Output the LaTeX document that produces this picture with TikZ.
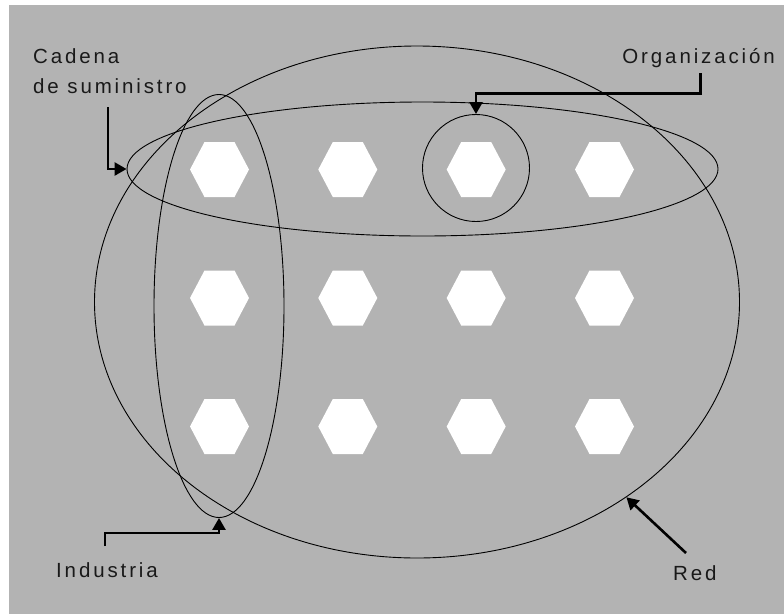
\documentclass[tikz,border=0pt]{standalone}
\usepackage{fontspec}
\setmainfont{Liberation Sans}[LetterSpace=14]
\usetikzlibrary{shapes.geometric,arrows.meta}
\definecolor{bggray}{HTML}{B3B3B3}
\begin{document}
\begin{tikzpicture}[x=1pt,y=-1pt,
  ring/.style={draw=black, line width=0.9pt, inner sep=0pt, fill=none},
  lbl/.style={anchor=base west, inner sep=0pt, font=\fontsize{20.5}{24}\selectfont, text=black!90},
  pointer/.style={draw=black, line width=2.6pt, -{Triangle[length=12pt,width=13pt]}},
  hexfill/.style={fill=white, draw=none}]
\useasboundingbox (0,0) rectangle (784,614);
\fill[white] (0,0) rectangle (784,614);
\fill[bggray] (9,5) rectangle (784,614);
% hexagons
\foreach \cx in {219.5,347.8,476.2,604.5}{
  \foreach \cy in {169.5,298,426.5}{
    \fill[hexfill] (\cx,\cy) ++(-29.5,0) -- ++(14.5,-27.5) -- ++(30,0) -- ++(14.5,27.5) -- ++(-14.5,27.5) -- ++(-30,0) -- cycle;
  }
}
% outlines
\node[ring, ellipse, minimum width=645pt, minimum height=512pt] (red) at (417,302) {};
\node[ring, ellipse, minimum width=591pt, minimum height=134pt] (supply) at (422.5,169) {};
\node[ring, ellipse, minimum width=130pt, minimum height=423pt] (industry) at (219,306) {};
\node[ring, circle, minimum size=107pt] (org) at (476,168) {};
% labels
\node[lbl] (cadena1) at (33,63) {Cadena};
\node[lbl] (cadena2) at (33,93) {de suministro};
\node[lbl, anchor=base east] (orglbl) at (775,63) {Organización};
\node[lbl] (indlbl) at (56,577) {Industria};
\node[lbl] (redlbl) at (673,580) {Red};
% connectors
\coordinate (c1) at (108,107);
\coordinate (c2) at (700.5,73);
\coordinate (c3) at (105,546);
\coordinate (c4) at (686,553);
\draw[pointer] (c1) |- (supply.west);
\draw[pointer] (c2) -- (700.5,93.5) -| (org.north);
\draw[pointer] (c3) -- (105,533) -| (industry.south);
\draw[pointer] (c4) -- (red.-43);
\end{tikzpicture}
\end{document}
